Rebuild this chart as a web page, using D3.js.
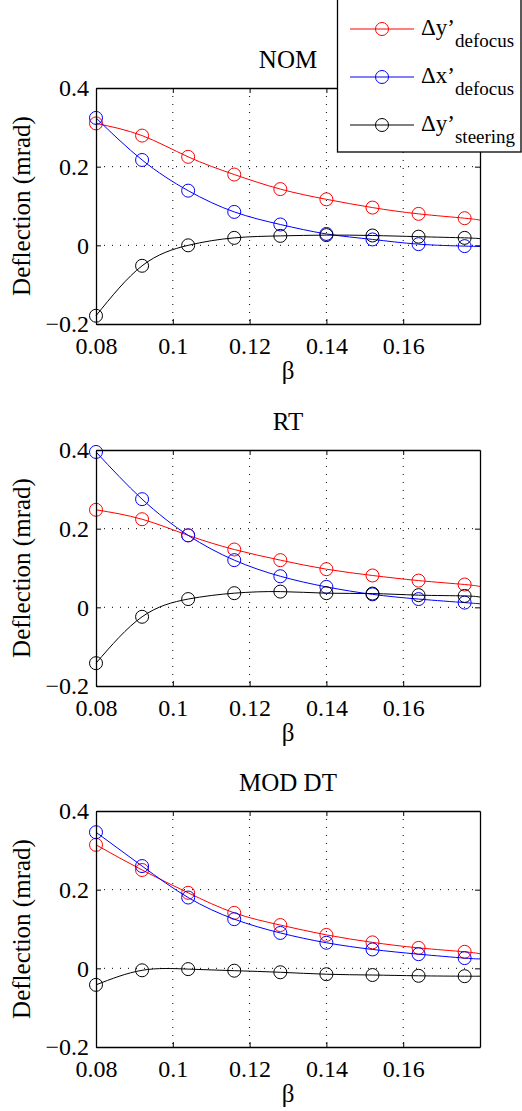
<!DOCTYPE html>
<html lang="en">
  <head>
    <meta charset="utf-8">
    <title>Deflection vs beta</title>
    <script src="https://cdn.jsdelivr.net/npm/d3@7"></script>
    <style>
      body { margin: 0; background: #fff; }
      svg, svg text, svg tspan { font-family: 'Liberation Serif', serif !important; }
    </style>
  </head>
  <body>
    <div id='chart'></div>

    <script type='text/javascript'>
      // beta values where markers sit
      let beta = [0.08, 0.092, 0.104, 0.116, 0.128, 0.14, 0.152, 0.164, 0.176]
      // lines run on to the right edge of the box, last value read at beta = 0.18
      let lineBeta = [0.08, 0.092, 0.104, 0.116, 0.128, 0.14, 0.152, 0.164, 0.176, 0.18]

      let panelTitles = ['NOM', 'RT', 'MOD DT']

      // NOM
      let nomDyDefocus  = [0.310, 0.279, 0.225, 0.180, 0.143, 0.117, 0.096, 0.080, 0.069, 0.064]
      let nomDxDefocus  = [0.324, 0.217, 0.139, 0.085, 0.053, 0.029, 0.015, 0.003, -0.002, -0.003]
      let nomDySteering = [-0.179, -0.052, 0.000, 0.019, 0.024, 0.026, 0.025, 0.022, 0.019, 0.017]
      // RT
      let rtDyDefocus   = [0.248, 0.224, 0.183, 0.147, 0.120, 0.097, 0.081, 0.068, 0.058, 0.053]
      let rtDxDefocus   = [0.395, 0.275, 0.183, 0.120, 0.079, 0.052, 0.033, 0.021, 0.012, 0.009]
      let rtDySteering  = [-0.142, -0.024, 0.021, 0.036, 0.040, 0.036, 0.035, 0.031, 0.029, 0.026]
      // MOD DT
      let modDyDefocus  = [0.314, 0.250, 0.192, 0.141, 0.110, 0.085, 0.066, 0.052, 0.042, 0.037]
      let modDxDefocus  = [0.346, 0.260, 0.180, 0.125, 0.090, 0.065, 0.048, 0.036, 0.026, 0.024]
      let modDySteering = [-0.042, -0.005, -0.002, -0.006, -0.010, -0.015, -0.017, -0.019, -0.020, -0.020]

      let seriesNames = ['\u0394y\u2019', '\u0394x\u2019', '\u0394y\u2019']
      let seriesSubs = ['defocus', 'defocus', 'steering']
      let seriesColors = ['#ff0000', '#0000ff', '#000000']

      let xTicks = [0.08, 0.1, 0.12, 0.14, 0.16]
      let xTickLabels = ['0.08', '0.1', '0.12', '0.14', '0.16']
      let yTicks = [-0.2, 0, 0.2, 0.4]
      let yTickLabels = ['\u22120.2', '0', '0.2', '0.4']

      let panels = [
        [nomDyDefocus, nomDxDefocus, nomDySteering],
        [rtDyDefocus, rtDxDefocus, rtDySteering],
        [modDyDefocus, modDxDefocus, modDySteering]
      ]

      let width = 522
      let height = 1111
      let left = 96, right = 480
      let plotH = 236
      let tops = [88, 450, 811]
      let font = 'Liberation Serif'

      let svg = d3.select('#chart').append('svg')
        .attr('width', width)
        .attr('height', height)
        .attr('font-family', font)

      let scale_x = d3.scaleLinear()
        .domain([0.08, 0.18])
        .range([left, right])

      panels.forEach((series, p) => {
        let top = tops[p]
        let scale_y = d3.scaleLinear()
          .domain([-0.2, 0.4])
          .range([top + plotH, top])

        let g = svg.append('g')

        // dotted grid
        g.selectAll('.vgrid')
          .data(xTicks.slice(1))
          .enter()
          .append('line')
          .attr('x1', d => scale_x(d)).attr('x2', d => scale_x(d))
          .attr('y1', top).attr('y2', top + plotH)
          .attr('stroke', '#000').attr('stroke-width', 1)
          .attr('stroke-dasharray', '1,7')
        g.selectAll('.hgrid')
          .data(yTicks.slice(1, -1))
          .enter()
          .append('line')
          .attr('x1', left).attr('x2', right)
          .attr('y1', d => scale_y(d)).attr('y2', d => scale_y(d))
          .attr('stroke', '#000').attr('stroke-width', 1)
          .attr('stroke-dasharray', '1,7')

        let line = d3.line()
          .x((d, i) => scale_x(lineBeta[i]))
          .y(d => scale_y(d))
          .curve(d3.curveNatural)

        series.forEach((vals, s) => {
          g.append('path')
            .attr('d', line(vals))
            .attr('fill', 'none')
            .attr('stroke', seriesColors[s])
            .attr('stroke-width', 1)
          g.selectAll('.m' + s)
            .data(vals.slice(0, beta.length))
            .enter()
            .append('circle')
            .attr('cx', (d, i) => scale_x(beta[i]))
            .attr('cy', d => scale_y(d))
            .attr('r', 6.5)
            .attr('fill', 'none')
            .attr('stroke', seriesColors[s])
            .attr('stroke-width', 1)
        })

        // box with inward ticks on all four sides
        let x_axis = d3.axisBottom(scale_x).tickValues(xTicks)
          .tickFormat((d, i) => xTickLabels[i]).tickSizeInner(-5).tickSizeOuter(0)
        let xa = g.append('g')
          .attr('transform', 'translate(0,' + (top + plotH) + ')')
          .call(x_axis)
        xa.selectAll('text').attr('y', 30).attr('dy', null)

        g.append('g')
          .attr('transform', 'translate(0,' + top + ')')
          .call(d3.axisTop(scale_x).tickValues(xTicks).tickFormat('').tickSizeInner(-5).tickSizeOuter(0))

        let y_axis = d3.axisLeft(scale_y).tickValues(yTicks)
          .tickFormat((d, i) => yTickLabels[i]).tickSizeInner(-5).tickSizeOuter(0).tickPadding(7)
        g.append('g')
          .attr('transform', 'translate(' + left + ',0)')
          .call(y_axis)

        g.append('g')
          .attr('transform', 'translate(' + right + ',0)')
          .call(d3.axisRight(scale_y).tickValues(yTicks).tickFormat('').tickSizeInner(-5).tickSizeOuter(0))

        g.selectAll('g').attr('font-family', null)
        g.selectAll('.domain').attr('stroke', '#000').attr('stroke-width', 1.3)
        g.selectAll('.tick line').attr('stroke', '#000').attr('stroke-width', 1)
        g.selectAll('.tick text')
          .style('font-size', '24px')
          .attr('fill', '#000')

        // title
        g.append('text')
          .attr('x', (left + right) / 2)
          .attr('y', top - 20)
          .attr('text-anchor', 'middle')
          .style('font-size', '25px')
          .text(panelTitles[p])

        // axis labels
        g.append('text')
          .attr('x', (left + right) / 2)
          .attr('y', top + plotH + 55)
          .attr('text-anchor', 'middle')
          .style('font-size', '25px')
          .text('\u03b2')
        g.append('text')
          .attr('transform', 'translate(30,' + (top + plotH / 2) + ') rotate(-90)')
          .attr('text-anchor', 'middle')
          .style('font-size', '25px')
          .text('Deflection (mrad)')
      })

      // legend sits over the top panel
      let legend = svg.append('g')
      legend.append('rect')
        .attr('x', 337.5).attr('y', -2)
        .attr('width', 183.5).attr('height', 154)
        .attr('fill', '#fff')
        .attr('stroke', '#000').attr('stroke-width', 1.3)

      seriesNames.forEach((name, i) => {
        let cy = 29 + i * 48
        legend.append('line')
          .attr('x1', 350).attr('x2', 414)
          .attr('y1', cy).attr('y2', cy)
          .attr('stroke', seriesColors[i]).attr('stroke-width', 1)
        legend.append('circle')
          .attr('cx', 382).attr('cy', cy).attr('r', 6.5)
          .attr('fill', 'none')
          .attr('stroke', seriesColors[i]).attr('stroke-width', 1)
        let t = legend.append('text')
          .attr('x', 421).attr('y', cy + 6)
          .style('font-size', '23px')
        t.append('tspan').text(name)
        t.append('tspan').attr('dy', 12).style('font-size', '19px').text(seriesSubs[i])
      })
    </script>
  </body>
</html>
